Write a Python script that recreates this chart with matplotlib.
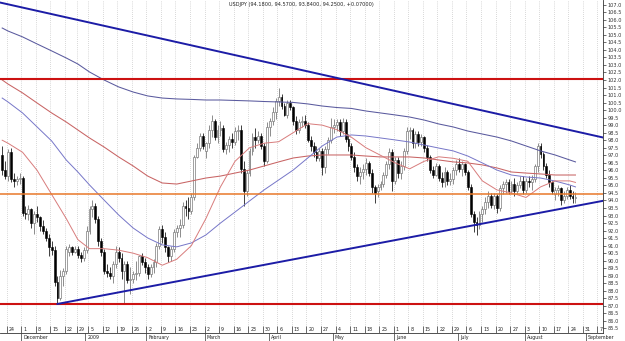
import numpy as np
import pandas as pd
import matplotlib
matplotlib.use('Agg')
import matplotlib.pyplot as plt
import matplotlib.transforms as mtransforms

# daily USDJPY bars 20 Nov 2008 .. 26 Aug 2009 (no bars on 25 Dec and 1 Jan)
opens = [
    97.0, 96.0, 95.6, 97.2, 95.4, 95.3, 95.4,  # Nov
    95.5, 93.2, 93.1, 93.4, 92.5, 93.1, 92.9, 92.3, 92.0, 91.5, 90.9, 90.7, 88.6, 87.5, 89.0, 89.3,
    90.6, 90.9, 90.6, 90.8, 90.4, 90.2,  # Dec
    90.7, 92.0, 93.4, 93.6, 92.8, 91.3, 90.6, 89.3, 89.2, 89.0, 89.8, 90.6, 90.2, 89.3, 89.8, 88.7,
    88.8, 89.1, 89.2, 90.3, 89.9,  # Jan
    89.6, 89.1, 89.6, 89.9, 91.0, 92.1, 91.6, 90.9, 90.3, 90.8, 91.9, 92.2, 92.4, 93.6, 93.5, 93.3,
    94.2, 96.9, 97.5, 98.3,  # Feb
    97.3, 97.8, 98.7, 99.3, 98.2, 98.7, 98.8, 97.4, 97.7, 98.1, 97.9, 98.6, 98.7, 96.1, 94.6, 95.8,
    97.3, 98.2, 98.0, 98.3, 97.6, 96.6,  # Mar
    98.9, 99.3, 99.9, 100.6, 100.9, 100.3, 99.7, 100.5, 100.2, 99.3, 98.7, 99.2, 99.3, 99.0, 98.0,
    97.6, 97.2, 96.8, 97.3, 96.2, 97.4, 98.0,  # Apr
    98.9, 99.0, 99.2, 98.6, 99.2, 98.1, 97.6, 96.9, 96.2, 95.6, 95.9, 96.1, 96.5, 95.8, 94.9, 94.6,
    94.9, 95.1, 95.7, 96.4, 97.2,  # May
    95.3, 96.7, 95.8, 96.3, 97.3, 98.6, 98.7, 97.8, 98.4, 97.9, 98.2, 97.5, 96.9, 96.0, 95.7, 96.3,
    95.5, 95.2, 95.9, 95.3, 95.4, 96.0,  # Jun
    96.4, 96.1, 96.4, 95.9, 94.9, 93.1, 92.6, 92.4, 93.1, 93.4, 93.9, 94.3, 93.7, 94.3, 93.5, 94.8,
    95.1, 95.2, 94.6, 95.1, 94.6, 95.0, 95.3,  # Jul
    94.7, 95.3, 95.2, 95.4, 96.3, 97.6, 97.1, 96.3, 95.7, 95.2, 94.4, 94.7, 94.8, 94.0, 94.3, 94.7,
    94.3, 94.18,  # Aug
]
highs = [
    97.6, 96.6, 97.4, 97.5, 95.8, 95.6, 95.8,
    95.6, 93.6, 93.7, 93.5, 93.3, 93.6, 93.0, 92.7, 92.2, 91.8, 91.3, 91.0, 89.0, 89.4, 89.5, 91.0,
    91.1, 91.0, 91.0, 91.0, 90.6, 90.9,
    92.3, 93.6, 94.0, 93.8, 93.0, 91.5, 90.8, 89.8, 89.6, 90.0, 91.0, 90.9, 90.5, 90.0, 90.0, 89.6,
    89.3, 90.0, 90.4, 90.5, 90.2,
    89.8, 89.8, 90.1, 91.2, 92.3, 92.4, 91.9, 91.0, 91.0, 92.1, 92.4, 92.8, 93.9, 94.0, 94.2, 94.5,
    97.0, 97.8, 98.5, 98.5,
    97.9, 99.0, 99.7, 99.4, 99.0, 99.3, 99.0, 97.9, 98.3, 98.5, 98.9, 99.0, 99.0, 96.6, 96.0, 97.5,
    98.5, 98.8, 98.6, 98.5, 97.8, 99.2,
    99.5, 100.2, 100.8, 101.44, 101.1, 100.5, 100.7, 100.7, 100.3, 99.6, 99.4, 99.6, 99.7, 99.2,
    98.3, 97.9, 97.6, 97.5, 97.5, 97.6, 98.2, 99.5,
    99.4, 99.4, 99.4, 99.5, 99.4, 98.4, 97.8, 97.2, 96.4, 96.2, 96.4, 96.8, 96.6, 96.1, 95.0, 95.1,
    95.3, 95.9, 96.6, 97.5, 97.4,
    96.9, 96.9, 96.6, 97.5, 98.9, 98.9, 98.8, 98.6, 98.6, 98.4, 98.3, 97.7, 97.0, 96.3, 96.5, 96.4,
    95.9, 96.2, 96.0, 95.8, 96.2, 96.7,
    96.8, 96.6, 96.5, 96.0, 95.1, 93.3, 92.9, 93.3, 93.6, 94.2, 94.6, 94.5, 94.5, 94.4, 95.0, 95.3,
    95.4, 95.4, 95.3, 95.5, 95.2, 95.6, 95.6,
    95.5, 95.6, 95.7, 96.4, 97.79, 97.8, 97.2, 96.5, 96.0, 95.3, 94.9, 95.0, 94.9, 94.6, 94.9, 95.0,
    94.6, 94.57,
]
lows = [
    95.7, 95.4, 95.3, 95.2, 94.9, 95.0, 95.1,
    93.0, 92.8, 92.7, 92.2, 91.8, 92.6, 92.0, 91.8, 91.3, 90.3, 90.4, 88.3, 87.13, 87.4, 88.3, 89.1,
    90.3, 90.4, 90.5, 90.2, 89.9, 90.0,
    90.5, 91.8, 92.9, 92.5, 91.0, 90.3, 89.1, 88.9, 88.8, 88.5, 89.5, 89.9, 88.8, 87.10, 88.5, 87.8,
    88.5, 88.7, 89.0, 89.7, 89.2,
    88.8, 88.9, 89.2, 89.6, 90.8, 91.2, 90.6, 89.9, 90.0, 90.6, 91.6, 91.6, 92.2, 93.0, 92.8, 93.1,
    94.0, 96.8, 97.3, 97.4,
    96.8, 97.5, 98.2, 98.0, 97.8, 98.3, 97.2, 97.1, 97.2, 97.5, 97.7, 98.0, 95.8, 93.6, 94.3, 95.6,
    97.0, 97.5, 97.8, 97.4, 96.3, 96.5,
    98.3, 99.0, 99.4, 100.3, 100.1, 99.6, 99.5, 100.0, 99.0, 98.4, 98.5, 98.9, 98.8, 97.9, 97.3,
    96.9, 96.6, 96.6, 95.7, 95.8, 97.1, 97.8,
    98.5, 98.6, 98.3, 98.4, 97.9, 97.3, 96.7, 95.9, 95.3, 95.1, 95.4, 95.7, 95.6, 94.5, 93.85, 94.2,
    94.7, 94.9, 95.5, 96.1, 94.6,
    95.1, 95.5, 95.4, 96.0, 97.1, 98.1, 97.5, 97.5, 97.6, 97.6, 97.2, 96.6, 95.8, 95.5, 95.6, 95.3,
    94.9, 94.9, 95.0, 95.0, 95.1, 95.7,
    95.9, 95.6, 95.7, 94.7, 92.9, 91.9, 91.74, 92.1, 92.6, 93.1, 93.5, 93.5, 93.4, 93.2, 93.3, 94.4,
    94.5, 94.4, 94.5, 94.3, 94.4, 94.8, 94.4,
    94.5, 94.9, 94.7, 95.2, 95.9, 96.8, 96.0, 95.5, 94.9, 94.4, 94.0, 94.3, 93.7, 93.8, 94.1, 94.1,
    93.8, 93.84,
]
closes = [
    96.0, 95.6, 97.2, 95.4, 95.3, 95.4, 95.5,
    93.2, 93.1, 93.4, 92.5, 93.1, 92.9, 92.3, 92.0, 91.5, 90.9, 90.7, 88.6, 87.5, 89.0, 89.3, 90.8,
    90.9, 90.6, 90.8, 90.4, 90.2, 90.7,
    92.0, 93.4, 93.6, 92.8, 91.3, 90.6, 89.3, 89.2, 89.0, 89.8, 90.6, 90.2, 89.3, 89.8, 88.7, 88.8,
    89.1, 89.2, 90.3, 89.9, 89.6,
    89.1, 89.6, 89.9, 91.0, 92.1, 91.6, 90.9, 90.3, 90.8, 91.9, 92.2, 92.4, 93.6, 93.5, 93.3, 94.2,
    96.9, 97.5, 98.3, 97.6,
    97.8, 98.7, 99.3, 98.2, 98.7, 98.8, 97.4, 97.7, 98.1, 97.9, 98.6, 98.7, 96.1, 94.6, 95.8, 97.3,
    98.2, 98.0, 98.3, 97.6, 96.6, 98.9,
    99.3, 99.9, 100.6, 100.9, 100.3, 99.7, 100.5, 100.2, 99.3, 98.7, 99.2, 99.3, 99.0, 98.0, 97.6,
    97.2, 96.8, 97.3, 96.2, 97.4, 98.0, 98.9,
    99.0, 99.2, 98.6, 99.2, 98.1, 97.6, 96.9, 96.2, 95.6, 95.9, 96.1, 96.5, 95.8, 94.9, 94.5, 94.9,
    95.1, 95.7, 96.4, 97.2, 95.3,
    96.7, 95.8, 96.3, 97.3, 98.6, 98.7, 97.8, 98.4, 97.9, 98.2, 97.5, 96.9, 96.0, 95.7, 96.3, 95.5,
    95.2, 95.9, 95.3, 95.4, 96.0, 96.4,
    96.1, 96.4, 95.9, 94.9, 93.1, 92.6, 92.4, 93.1, 93.4, 93.9, 94.3, 93.7, 94.3, 93.5, 94.8, 95.1,
    95.2, 94.6, 95.1, 94.6, 95.0, 95.3, 94.7,
    95.3, 95.2, 95.4, 96.3, 97.6, 97.1, 96.3, 95.7, 95.2, 94.6, 94.7, 94.8, 94.0, 94.3, 94.7, 94.3,
    94.18, 94.25,
]

# moving averages read weekly: 20 Nov, every Monday 24 Nov .. 24 Aug, 26 Aug
ma20 = [98.0, 97.8, 97.2, 96.0, 94.4, 92.8, 91.4, 90.8, 90.8, 90.7, 90.5, 90.2, 89.7, 90.1,
        91.0, 92.8, 94.9, 96.6, 97.5, 97.8, 97.9, 98.5, 99.1, 99.0, 98.7, 98.2, 97.5, 97.0,
        96.5, 96.1, 96.6, 96.9, 96.8, 96.6, 95.3, 94.7, 94.5, 94.2, 94.9, 95.3, 95.3, 95.2]
ma50 = [100.8, 100.54, 99.81, 98.88, 97.95, 96.69, 95.89, 95.03, 94.03, 93.04, 92.17, 91.51,
        91.05, 90.92, 91.18, 91.71, 92.5, 93.23, 93.97, 94.7, 95.36, 96.02, 96.82, 97.62, 98.21,
        98.35, 98.28, 98.15, 98.02, 97.88, 97.68, 97.48, 97.29, 96.95, 96.49, 96.02, 95.69,
        95.56, 95.49, 95.29, 95.03, 94.9]
ma100 = [102.0, 101.73, 101.14, 100.47, 99.81, 99.21, 98.68, 98.15, 97.55, 96.89, 96.29, 95.62,
         95.16, 95.09, 95.29, 95.49, 95.62, 95.82, 96.02, 96.29, 96.56, 96.82, 96.95, 97.02,
         97.02, 97.02, 96.95, 96.89, 96.89, 96.89, 96.82, 96.69, 96.56, 96.49, 96.36, 96.16,
         95.89, 95.82, 95.76, 95.69, 95.69, 95.69]
ma200 = [105.45, 105.25, 104.86, 104.39, 103.93, 103.46, 103.06, 102.53, 102.0, 101.54, 101.2,
         100.94, 100.8, 100.74, 100.71, 100.67, 100.67, 100.64, 100.61, 100.57, 100.54, 100.51,
         100.41, 100.27, 100.17, 100.11, 99.94, 99.81, 99.68, 99.54, 99.34, 99.08, 98.88, 98.61,
         98.41, 98.21, 97.95, 97.62, 97.29, 97.02, 96.69, 96.56]

upper_trend = [('2008-11-20', 107.11), ('2009-08-26', 98.59)]
lower_trend = [('2008-12-17', 87.13), ('2009-08-26', 93.63)]
resistance = 102.05
support = 87.13
pivot = 94.42

month_names = ['December', '2009', 'February', 'March', 'April', 'May', 'June', 'July',
               'August', 'September']
title = 'USDJPY (94.1800, 94.5700, 93.8400, 94.2500, +0.07000)'

# trading days on the axis (one slot per weekday, holidays dropped)
days = pd.bdate_range('2008-11-20', '2009-09-11')
days = days.drop([pd.Timestamp('2008-12-25'), pd.Timestamp('2009-01-01')])
pos = {d: i for i, d in enumerate(days)}

fig = plt.figure(figsize=(6.25, 3.41), dpi=100)
ax = fig.add_axes([0, 8 / 341, 603 / 625, 333 / 341])
ax.set_xlim(-0.756, 206.46)
ax.set_ylim(85.20, 107.31)

mondays = [d for d in days if d.weekday() == 0 and d >= pd.Timestamp('2008-11-24')]
mon_x = np.array([pos[d] for d in mondays]) - 0.45
ax.vlines(mon_x, 85.2, 107.31, colors='#b4b4b4', linestyles=(0, (1, 2)), lw=0.5, zorder=0)

# candles
x = np.arange(len(closes))
o, h, l, c = map(np.array, (opens, highs, lows, closes))
up = c >= o
ax.vlines(x[up], l[up], h[up], colors='#7a7a7a', lw=0.6, zorder=2)
ax.vlines(x[~up], l[~up], h[~up], colors='#202020', lw=0.6, zorder=2)
ax.bar(x[up], np.maximum(c - o, 0.03)[up], bottom=o[up], width=0.64, color='white',
       edgecolor='#7a7a7a', lw=0.5, zorder=3)
ax.bar(x[~up], (o - c)[~up], bottom=c[~up], width=0.64, color='black',
       edgecolor='black', lw=0.4, zorder=3)

# moving averages
ma_days = ([pd.Timestamp('2008-11-20')] + [d for d in mondays if d <= pd.Timestamp('2009-08-24')]
           + [pd.Timestamp('2009-08-26')])
ma_x = [pos[d] for d in ma_days]
ax.plot(ma_x, ma200, color='#5a5a9e', lw=0.75, zorder=4)
ax.plot(ma_x, ma100, color='#c86464', lw=0.75, zorder=4)
ax.plot(ma_x, ma50, color='#7676c8', lw=0.7, zorder=4)
ax.plot(ma_x, ma20, color='#d87c7c', lw=0.7, zorder=4)

# horizontal levels
ax.axhline(resistance, color='#cc1111', lw=1.5, zorder=5)
ax.axhline(support, color='#cc1111', lw=1.5, zorder=5)
ax.axhline(pivot, color='#e8782a', lw=1.1, zorder=5)

# trend lines
x0, x1 = ax.get_xlim()
(d1, p1), (d2, p2) = upper_trend
a1, a2 = pos[pd.Timestamp(d1)], pos[pd.Timestamp(d2)]
k = (p2 - p1) / (a2 - a1)
ax.plot([x0, x1], [p1 + k * (x0 - a1), p1 + k * (x1 - a1)], color='#1c1ca6', lw=1.4, zorder=6)
(d1, p1), (d2, p2) = lower_trend
a1, a2 = pos[pd.Timestamp(d1)], pos[pd.Timestamp(d2)]
k = (p2 - p1) / (a2 - a1)
ax.plot([a1, x1], [p1, p1 + k * (x1 - a1)], color='#1c1ca6', lw=1.4, zorder=6)

# price axis on the right
ax.yaxis.tick_right()
ax.set_yticks(np.arange(85.5, 107.01, 0.5))
ax.set_yticklabels(['%.1f' % v for v in np.arange(85.5, 107.01, 0.5)])
ax.tick_params(axis='y', labelsize=3.6, length=2, width=0.5, pad=1.5, colors='#333333')
ax.set_xticks([])
for s in ('top', 'left'):
    ax.spines[s].set_visible(False)
for s in ('right', 'bottom'):
    ax.spines[s].set_linewidth(0.6)
    ax.spines[s].set_color('#333333')

# date row: week numbers inside the frame, month names below it
trans = mtransforms.blended_transform_factory(ax.transData, ax.transAxes)
ax.vlines(mon_x, 0, 7 / 333, transform=trans, colors='#333333', lw=0.5)
for d, xm in zip(mondays, mon_x):
    ax.text(xm + 0.7, 3.6 / 333, str(d.day), transform=trans, fontsize=3.4,
            ha='left', va='center', color='#222222', clip_on=False)

month_starts = []
for d in days:
    if d >= pd.Timestamp('2008-12-01') and (not month_starts or d.month != month_starts[-1].month):
        month_starts.append(d)
month_x = np.array([pos[d] for d in month_starts]) - 0.45
ax.vlines(month_x, -8 / 333, 0, transform=trans, colors='#333333', lw=0.5, clip_on=False)
for name, xm in zip(month_names, month_x):
    ax.text(xm + 0.7, -4.2 / 333, name, transform=trans, fontsize=3.4,
            ha='left', va='center', color='#222222', clip_on=False)

ax.text(0.5, 1 - 4.5 / 333, title, transform=ax.transAxes, fontsize=3.6,
        ha='center', va='center', color='#222222')

fig.savefig('out.png', dpi=100)
